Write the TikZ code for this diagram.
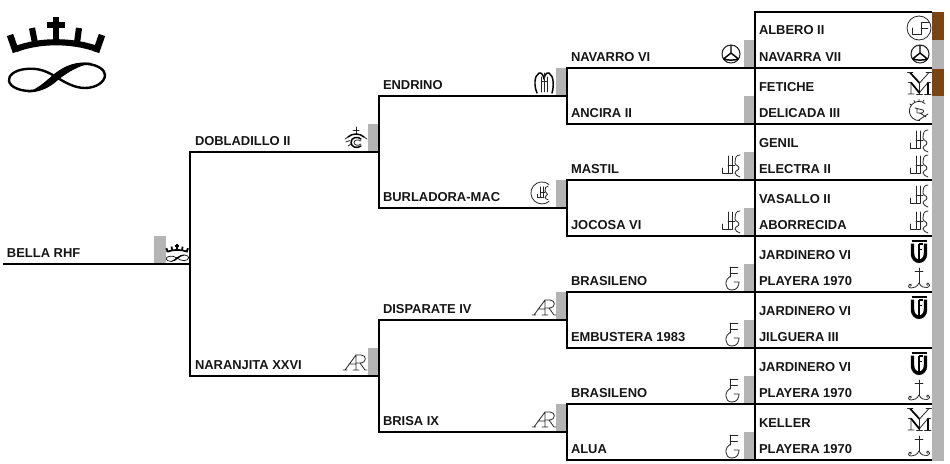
\documentclass[tikz,border=0pt]{standalone}
\usepackage{fontspec}
\setmainfont{Liberation Sans}
\definecolor{bandgray}{HTML}{B4B4B4}
\definecolor{bandbrown}{HTML}{7A4512}
\definecolor{inkc}{HTML}{151515}
\tikzset{
  wire/.style={draw=black,line width=1.7pt,line cap=butt},
  lab/.style={anchor=base west,inner sep=0pt,outer sep=0pt,text=inkc,font=\fontsize{9.7pt}{11pt}\selectfont\bfseries},
  thin ink/.style={draw=black!85,line width=0.6pt,line cap=round,line join=round},
  med ink/.style={draw=black,line width=1.1pt,line cap=round,line join=round},
  pics/crownmark/.style={code={
    \begin{scope}[draw=black,line cap=butt]
    \draw[line width=#1*4.6pt] (16,49) .. controls (40,40) and (72,40) .. (97,49);
    \draw[line width=#1*5pt] (10,35) -- (16,52);
    \draw[line width=#1*5pt] (102,35) -- (96,52);
    \draw[line width=#1*4.6pt] (32,28) -- (35,43);
    \draw[line width=#1*4.6pt] (79,28) -- (77,43);
    \draw[line width=#1*4.6pt] (56,17) -- (56,42);
    \draw[line width=#1*4.6pt] (47,25) -- (65,25);
    \draw[line width=#1*1.8pt] (56,77) .. controls (72,66) and (80,63) .. (88,64) .. controls (98,65) and (105,70) .. (105,75) .. controls (105,82) and (96,88) .. (85,88) .. controls (75,88) and (66,83) .. (56,77) .. controls (44,69) and (34,68) .. (26,69) .. controls (14,70) and (8,76) .. (9,81) .. controls (10,87) and (20,91) .. (30,91) .. controls (40,91) and (50,84) .. (56,77);
    \fill[black] (28,92.5) .. controls (42,92) and (50,87) .. (58,80) .. controls (68,72) and (78,66) .. (92,63) .. controls (76,61) and (66,65) .. (54,74) .. controls (46,81) and (40,87) .. (28,92.5) -- cycle;
    \end{scope}
  }},
  pics/wheelmark/.style={code={
    \draw[draw=black!85,line width=0.8pt] (0,0) circle (9);
    \draw[draw=black,line width=1.1pt,line join=round] (0,-9) -- (0,-1) (-7.5,5) -- (0,-1) -- (7.5,5) (-7.5,5) .. controls (-3,6.5) and (3,6.5) .. (7.5,5);
  }},
  pics/jfmark/.style={code={
    \draw[thin ink] (0,0) circle (12);
    \draw[thin ink] (-7,0) -- (-7,6) -- (2,6) -- (2,-6) -- (10,-6) (2,0) -- (9,0);
  }},
  pics/mymark/.style={code={
    \draw[draw=black,line width=1.3pt,line cap=butt] (-9.5,-11) -- (0,-0.5);
    \draw[thin ink] (9.5,-11) -- (0,-0.5);
    \draw[thin ink] (-12,-11.5) -- (-6.5,-11.5) (6.5,-11.5) -- (12,-11.5);
    \draw[thin ink] (0,-1) -- (0,10.5) (-8.5,-1) -- (-8.5,10.5) (-11.5,10.5) -- (-5.5,10.5) (-11,-1) -- (-8,-1) (8.5,-1) -- (0,9);
    \draw[draw=black,line width=1.3pt,line cap=butt] (-8.5,-1) -- (0,9.5);
    \draw[draw=black,line width=1.3pt,line cap=butt] (8.5,-1) -- (8.5,10.5);
    \draw[thin ink] (5,10.5) -- (11.5,10.5) (8,-1) -- (11,-1) (-3,10.5) -- (3,10.5);
  }},
  pics/dialmark/.style={code={
    \draw[thin ink] (6,-7.5) arc (-51:-275:9.6);
    \draw[thin ink] (-1,9.6) -- (9,3);
    \draw[thin ink] (-4,-3) -- (4,-1) .. controls (6,1) and (3,3) .. (-1,2) (1,2) -- (7,6) (-2,-3) -- (-2,2);
    \draw[thin ink] (0,-11.5) -- (0,-10) (-5,-10.5) -- (-4.5,-9) (5,-11) -- (4,-9.5) (-9,-7) -- (-8,-6);
  }},
  pics/jhmark/.style={code={
    \draw[thin ink] (-8.5,2) -- (-8.5,7.5) -- (1,7.5);
    \draw[thin ink] (-3,-10) -- (-3,7.5) (1,-10) -- (1,7.5) (-3,-1) -- (4,-1);
    \draw[thin ink] (9,-11) .. controls (5,-11) and (4,-8) .. (4,-3) .. controls (4,-1) and (8,0) .. (8,2) .. controls (8,4) and (4,5) .. (4,7) .. controls (4,9) and (7,10) .. (9,11);
  }},
  pics/anchormark/.style={code={
    \draw[thin ink] (0,-10) -- (0,5) (-4,-7) -- (4,-7);
    \draw[thin ink] (0,5) .. controls (-2,9) and (-5,10) .. (-8,10) .. controls (-11,10) and (-11.5,6.5) .. (-9,6) .. controls (-7.5,6) and (-7,8) .. (-8.5,8.2);
    \draw[thin ink] (0,5) .. controls (2,9) and (5,10) .. (8,9.5) .. controls (11,9) and (11.5,5.5) .. (9,5) .. controls (7.5,5) and (7,7) .. (8.5,7.2);
  }},
  pics/tfmark/.style={code={
    \draw[draw=black,line width=1.9pt] (-7.5,-10.5) -- (7.5,-10.5);
    \draw[draw=black,line width=2.6pt] (-6.5,-8) -- (-6.5,2) .. controls (-6.5,7) and (-3,9.8) .. (0,9.8) .. controls (3,9.8) and (6.5,7) .. (6.5,2) -- (6.5,-8);
    \draw[draw=black,line width=1pt] (0,-8) -- (0,9) (0,-7.5) -- (3.5,-7.5) (0,-2) -- (3,-2);
  }},
  pics/egmark/.style={code={
    \draw[thin ink] (-2,-11) -- (-2,-1) (-2,-11) -- (6,-11) (-2,-5) -- (5.5,-5);
    \draw[thin ink] (-1,-2) .. controls (-8,1) and (-8,12) .. (0,12) .. controls (5,12) and (7,8) .. (7,4) -- (2,4);
  }},
  pics/armark/.style={code={
    \draw[thin ink] (0,15) -- (11,0) (4,9) -- (11,9) (11,0) -- (11,15) (-2,15) -- (2,15) (8,15) -- (14,15);
    \draw[thin ink] (11,0) -- (16,0) .. controls (22,0) and (22,8) .. (15,8) -- (11,8) (15,8) -- (20,15) -- (22,15);
  }},
  pics/ornamark/.style={code={
    \draw[thin ink] (0,-12) -- (0,-5) (-3,-9) -- (3,-9);
    \draw[med ink] (-8,-2) .. controls (-4,-6) and (4,-6) .. (8,-2);
    \draw[thin ink] (-11,0) -- (-8,-2) (11,0) -- (8,-2) (-10,3) -- (-6,1.5) (-8,7) -- (-5,5);
    \draw[med ink] (5,0) .. controls (2,-3) and (-5,-2) .. (-5,3.5) .. controls (-5,8) and (1,10) .. (5,7);
    \draw[thin ink] (5,2) .. controls (2,0) and (-2,1) .. (-2,3.5) .. controls (-2,6) and (2,7.5) .. (5,5);
  }},
  pics/tulipmark/.style={code={
    \draw[med ink] (-7,10) .. controls (-10,3) and (-10,-7) .. (-5,-10) .. controls (-2,-11) and (-0.5,-7) .. (0,-4);
    \draw[med ink] (8,10) .. controls (10,3) and (10,-7) .. (5,-10) .. controls (2,-11) and (0.5,-7) .. (0,-4);
    \draw[thin ink] (-3,-6) -- (-3,9) (0,-10) -- (0,9) (-2,-2) -- (3,-2) (3.5,-6) -- (3.5,9);
  }},
  pics/jhcircle/.style={code={
    \draw[thin ink] (7,-8.5) arc (-50:-310:11);
    \pic[scale=0.62] at (0.5,0) {jhmark};
  }},
}
\begin{document}
\begin{tikzpicture}[x=0.75pt,y=-0.75pt]
\useasboundingbox (0,0) rectangle (950,464);
% grey tabs
\fill[bandgray] (154,236) rectangle (166,263);
\foreach \y in {124,348} {\fill[bandgray] (368,\y) rectangle (379,\y+27);}
\foreach \y in {68,180,292,404} {\fill[bandgray] (556,\y) rectangle (567,\y+27);}
\foreach \y in {40,96,152,208,264,320,376,432} {\fill[bandgray] (744,\y) rectangle (755,\y+27);}
\fill[bandgray] (932,12) rectangle (944,461);
\fill[bandbrown] (932,12) rectangle (944,40);
\fill[bandbrown] (932,69) rectangle (944,96);
% named junctions
\coordinate (r0) at (3,264); \coordinate (r1) at (190,264);
\coordinate (a0) at (190,152); \coordinate (a1) at (379,152);
\coordinate (b0) at (190,376); \coordinate (b1) at (379,376);
\coordinate (c0) at (379,96);  \coordinate (c1) at (567,96);
\coordinate (d0) at (379,208); \coordinate (d1) at (567,208);
\coordinate (e0) at (379,320); \coordinate (e1) at (567,320);
\coordinate (f0) at (379,432); \coordinate (f1) at (567,432);
\foreach \n/\y in {1/68,2/124,3/180,4/236,5/292,6/348,7/404,8/460} {
  \coordinate (g\n0) at (567,\y); \coordinate (g\n1) at (755,\y); \coordinate (g\n2) at (932,\y);
}
\coordinate (top0) at (755,12); \coordinate (top1) at (932,12);
% connectors
\draw[wire] (r0) -- (r1);
\draw[wire] (a1) -- (a0) -- (b0) -- (b1);
\draw[wire] (c1) -- (c0) -- (d0) -- (d1);
\draw[wire] (e1) -- (e0) -- (f0) -- (f1);
\draw[wire] (g11) -- (g10) -- (g20) -- (g21);
\draw[wire] (g31) -- (g30) -- (g40) -- (g41);
\draw[wire] (g51) -- (g50) -- (g60) -- (g61);
\draw[wire] (g71) -- (g70) -- (g80) -- (g81);
\draw[wire] (top1) -- (top0) -- (g81);
\foreach \n in {1,...,8} {\draw[wire] (g\n1) -- (g\n2);}
% labels
\node[lab] (n00) at (7,257) {BELLA RHF};
\node[lab] (n01) at (195,145) {DOBLADILLO II};
\node[lab] (n02) at (195,369) {NARANJITA XXVI};
\node[lab] (n03) at (383,89) {ENDRINO};
\node[lab] (n04) at (383,201) {BURLADORA-MAC};
\node[lab] (n05) at (383,313) {DISPARATE IV};
\node[lab] (n06) at (383,425) {BRISA IX};
\node[lab] (n07) at (571,61) {NAVARRO VI};
\node[lab] (n08) at (571,117) {ANCIRA II};
\node[lab] (n09) at (571,173) {MASTIL};
\node[lab] (n10) at (571,229) {JOCOSA VI};
\node[lab] (n11) at (571,285) {BRASILENO};
\node[lab] (n12) at (571,341) {EMBUSTERA 1983};
\node[lab] (n13) at (571,397) {BRASILENO};
\node[lab] (n14) at (571,453) {ALUA};
\node[lab] (n15) at (759,35) {ALBERO II};
\node[lab] (n16) at (759,61) {NAVARRA VII};
\node[lab] (n17) at (759,91) {FETICHE};
\node[lab] (n18) at (759,117) {DELICADA III};
\node[lab] (n19) at (759,147) {GENIL};
\node[lab] (n20) at (759,173) {ELECTRA II};
\node[lab] (n21) at (759,203) {VASALLO II};
\node[lab] (n22) at (759,229) {ABORRECIDA};
\node[lab] (n23) at (759,259) {JARDINERO VI};
\node[lab] (n24) at (759,285) {PLAYERA 1970};
\node[lab] (n25) at (759,315) {JARDINERO VI};
\node[lab] (n26) at (759,341) {JILGUERA III};
\node[lab] (n27) at (759,371) {JARDINERO VI};
\node[lab] (n28) at (759,397) {PLAYERA 1970};
\node[lab] (n29) at (759,427) {KELLER};
\node[lab] (n30) at (759,453) {PLAYERA 1970};
% marks
\pic at (0,0) {crownmark=1};
\pic[scale=0.235] at (164,240) {crownmark=0.28};
\pic at (356,139) {ornamark};
\pic at (345,355) {armark};
\pic at (544,83) {tulipmark};
\pic at (542,193) {jhcircle};
\pic at (534,300) {armark};
\pic at (534,412) {armark};
\pic at (731,54) {wheelmark};
\pic at (731,166) {jhmark};
\pic at (731,222) {jhmark};
\pic at (732,278) {egmark};
\pic at (732,334) {egmark};
\pic at (732,390) {egmark};
\pic at (732,446) {egmark};
\pic at (919,28) {jfmark};
\pic at (920,54) {wheelmark};
\pic at (919.5,83.5) {mymark};
\pic at (919,111) {dialmark};
\pic at (919,141) {jhmark};
\pic at (919,166) {jhmark};
\pic at (919,196) {jhmark};
\pic at (919,222) {jhmark};
\pic at (919,251.5) {tfmark};
\pic at (919,278) {anchormark};
\pic at (919,307.5) {tfmark};
\pic at (919,363.5) {tfmark};
\pic at (919,390) {anchormark};
\pic at (919.5,419.5) {mymark};
\pic at (919,446) {anchormark};
\end{tikzpicture}
\end{document}
